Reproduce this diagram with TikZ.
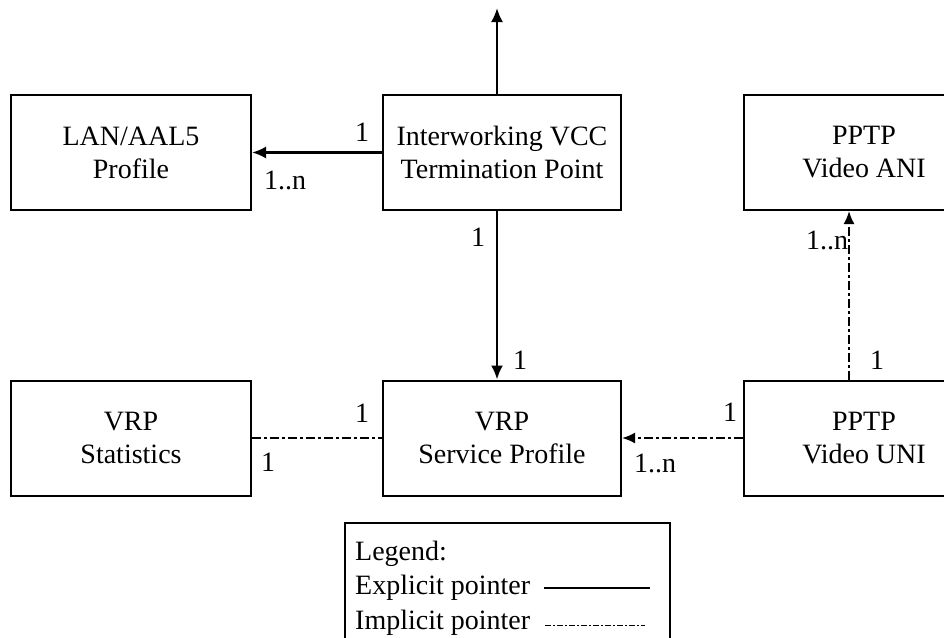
\documentclass[tikz,border=0pt]{standalone}
\usepackage{fontspec}
\setmainfont{Liberation Serif}
\usetikzlibrary{arrows.meta}

\tikzset{
  box/.style={draw, line width=2pt, minimum width=240pt, minimum height=115pt,
    align=center, inner sep=2pt, font=\fontsize{28}{33}\selectfont},
  card/.style={inner sep=0pt, font=\fontsize{28}{33}\selectfont},
  explptr/.style={line width=2.2pt, -{Latex[length=14pt,width=12pt]}},
  implptr/.style={line width=2pt, dash pattern=on 9pt off 3pt on 3pt off 3pt},
}

\begin{document}
\begin{tikzpicture}[x=1pt,y=-1pt]
 \useasboundingbox (0,0) rectangle (944,637);
 \clip (0,0) rectangle (944,637);

 % les boites
 \node[box] (lan) at (131,152.5) {LAN/AAL5\\Profile};
 \node[box, minimum width=238pt] (itvcc) at (502,152.5) {Interworking VCC\\Termination Point};
 \node[box] (ani) at (864,152.5) {PPTP\\Video ANI};
 \node[box] (vrpstat) at (131,438) {VRP\\Statistics};
 \node[box, minimum width=238pt] (vrpsp) at (502,438) {VRP\\Service Profile};
 \node[box] (uni) at (864,438) {PPTP\\Video UNI};

 \coordinate (up) at (497,8);

 % pointeurs explicites
 \draw[explptr] ([xshift=-5pt]itvcc.north) -- (up);
 \draw[explptr] (itvcc.west) -- (lan.east);
 \draw[explptr] ([xshift=-5pt]itvcc.south) -- ([xshift=-5pt]vrpsp.north);

 % pointeurs implicites
 \draw[implptr] (vrpstat.east) -- (vrpsp.west);
 \draw[implptr, -{Latex[length=13pt,width=11pt]}] (uni.west) -- (vrpsp.east);
 \draw[implptr, -{Latex[length=13pt,width=11pt]}] ([xshift=-15pt]uni.north) -- ([xshift=-15pt]ani.south);

 % cardinalites
 \node[card] (c1) at (362,132) {1};
 \node[card] (c2) at (285,180) {1..n};
 \node[card] (c3) at (478,237) {1};
 \node[card] (c4) at (520,360) {1};
 \node[card] (c5) at (362,413) {1};
 \node[card] (c6) at (268,462) {1};
 \node[card] (c7) at (730,412) {1};
 \node[card] (c8) at (655,463) {1..n};
 \node[card] (c9) at (827,240) {1..n};
 \node[card] (c10) at (877,360) {1};

 % legende
 \node[draw, line width=2pt, minimum width=325pt, minimum height=150pt, anchor=north]
   (legendbox) at (507.5,522) {};
 \node[card, anchor=base west] (legend) at (355,560) {Legend:};
 \node[card, anchor=base west] (explicit) at (355,594) {Explicit pointer};
 \node[card, anchor=base west] (implicit) at (355,629) {Implicit pointer};
 \coordinate (e1) at (544,588);
 \coordinate (e2) at (650,588);
 \coordinate (i1) at (545,625);
 \coordinate (i2) at (645,625);
 \draw[line width=2pt] (e1) -- (e2);
 \draw[line width=1pt, dash pattern=on 6pt off 2pt on 2pt off 2pt] (i1) -- (i2);
\end{tikzpicture}
\end{document}
